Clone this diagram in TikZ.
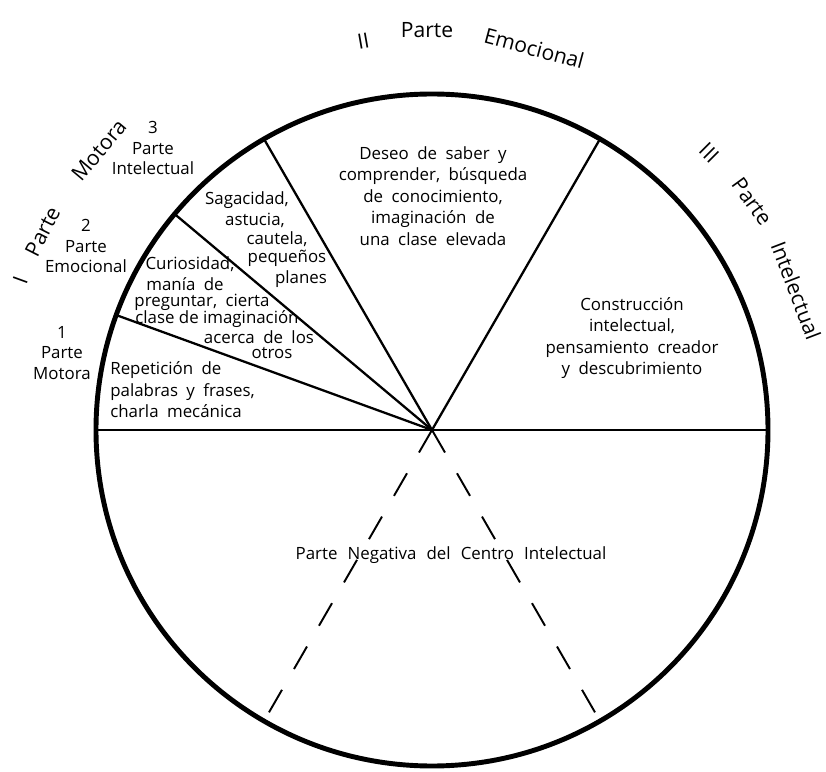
\documentclass[tikz,border=0pt]{standalone}
\usepackage{fontspec}
\setmainfont{Open Sans}
\tikzset{
  txt/.style={font={\fontsize{9.6}{12.3}\selectfont\spaceskip=0.5em\relax}, align=center, inner sep=0pt},
  side/.style={font=\fontsize{9.6}{11.5}\selectfont, align=center, inner sep=0pt},
  arclabel/.style={font=\fontsize{12}{14}\selectfont, inner sep=0pt},
  radius line/.style={line width=1.3pt},
}
\begin{document}
\begin{tikzpicture}
    \useasboundingbox (-8.64,-6.82) rectangle (7.88,8.6);

    % Cerchio e raggi
    \coordinate (c) at (0,0);
    \draw[line width=2.8pt] (c) circle (6.72);
    \foreach \a in {0,60,120,140,160,180} {
        \coordinate (r\a) at (\a:6.72);
        \draw[radius line] (c) -- (r\a);
    }
    \coordinate (dl) at (-120:6.54);
    \coordinate (dr) at (-60:6.54);
    \draw[line width=1.1pt, dash pattern=on 0.52cm off 0.48cm] (c) -- (dl);
    \draw[line width=1.1pt, dash pattern=on 0.52cm off 0.48cm] (c) -- (dr);

    % Settori
    \node[txt] (deseo) at (0.02,4.68) {Deseo de saber y\\comprender, búsqueda\\de conocimiento,\\imaginación de\\una clase elevada};
    \node[txt] (sag1) at (-3.70,4.60) {Sagacidad,};
    \node[txt] (sag2) at (-3.54,4.20) {astucia,};
    \node[txt] (sag3) at (-3.10,3.82) {cautela,};
    \node[txt] (sag4) at (-2.90,3.44) {pequeños};
    \node[txt] (sag5) at (-2.62,3.02) {planes};
    \node[txt] (cur1) at (-4.84,3.32) {Curiosidad,};
    \node[txt] (cur2) at (-4.94,2.92) {manía de};
    \node[txt] (cur3) at (-4.60,2.56) {preguntar, cierta};
    \node[txt, font=\fontsize{9.6}{12}\selectfont] (cur4) at (-4.30,2.22) {clase de imaginación};
    \node[txt] (cur5) at (-3.46,1.86) {acerca de los};
    \node[txt] (cur6) at (-3.20,1.54) {otros};
    \node[txt, anchor=west, align=left] (rep) at (-6.44,0.80) {Repetición de\\palabras y frases,\\charla mecánica};
    \node[txt] (constr) at (4.00,1.84) {Construcción\\intelectual,\\pensamiento creador\\y descubrimiento};
    \node[txt] (neg) at (0.38,-2.50) {\spaceskip=0.6em\relax Parte Negativa del Centro Intelectual};

    % Etichette esterne
    \node[side] (tres) at (-5.58,5.64) {3\\Parte\\Intelectual};
    \node[side] (dos) at (-6.92,3.68) {2\\Parte\\Emocional};
    \node[side] (uno) at (-7.40,1.54) {1\\Parte\\Motora};

    \node[arclabel, rotate=70] (i) at (160:8.76) {I};
    \node[arclabel, rotate=63] (ip) at (153:8.74) {Parte};
    \node[arclabel, rotate=50] (im) at (140:8.70) {Motora};
    \node[arclabel, rotate=10] (ii) at (100:7.90) {II};
    \node[arclabel, rotate=0] (iip) at (90.7:8.00) {Parte};
    \node[arclabel, rotate=-15] (iie) at (75:7.90) {Emocional};
    \node[arclabel, rotate=-45] (iii) at (45:7.84) {III};
    \node[arclabel, rotate=-54] (iiip) at (35.5:7.86) {Parte};
    \node[arclabel, rotate=-69] (iiii) at (21:7.80) {Intelectual};
\end{tikzpicture}
\end{document}
